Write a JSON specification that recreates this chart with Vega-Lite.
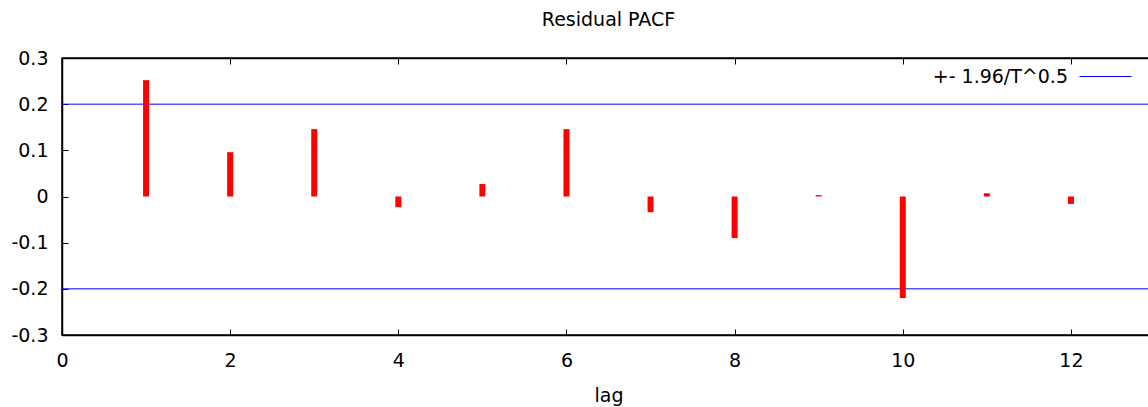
{
  "$schema": "https://vega.github.io/schema/vega-lite/v6.json",
  "autosize": "none",
  "width": 1093,
  "height": 277,
  "padding": {"left": 62, "top": 58, "right": 0, "bottom": 72},
  "title": {"text": "Residual PACF", "font": "DejaVu Sans", "fontSize": 19, "fontWeight": "normal", "color": "#000000", "offset": 19, "anchor": "middle"},
  "config": {
    "view": {"stroke": "#000000", "strokeWidth": 1.5},
    "axis": {"grid": false, "domainColor": "#000000", "tickColor": "#000000", "labelColor": "#000000", "titleColor": "#000000", "labelFont": "DejaVu Sans", "titleFont": "DejaVu Sans", "labelFontSize": 19, "titleFontSize": 19, "titleFontWeight": "normal", "tickSize": -6, "tickWidth": 1, "domainWidth": 1.5},
    "legend": {"labelFont": "DejaVu Sans", "labelFontSize": 19, "labelColor": "#000000"}
  },
  "datasets": {
    "pacf": [
      {"lag": 1, "pacf": 0.252},
      {"lag": 2, "pacf": 0.096},
      {"lag": 3, "pacf": 0.146},
      {"lag": 4, "pacf": -0.023},
      {"lag": 5, "pacf": 0.027},
      {"lag": 6, "pacf": 0.146},
      {"lag": 7, "pacf": -0.034},
      {"lag": 8, "pacf": -0.09},
      {"lag": 9, "pacf": 0.003},
      {"lag": 10, "pacf": -0.22},
      {"lag": 11, "pacf": 0.007},
      {"lag": 12, "pacf": -0.016}
    ],
    "bands": [
      {"band": 0.2, "series": "+- 1.96/T^0.5"},
      {"band": -0.2, "series": "+- 1.96/T^0.5"}
    ]
  },
  "layer": [
    {
      "data": {"name": "bands"},
      "mark": {"type": "rule", "strokeWidth": 1},
      "encoding": {
        "y": {"field": "band", "type": "quantitative", "scale": {"domain": [-0.3, 0.3]}, "axis": null},
        "color": {"field": "series", "type": "nominal", "scale": {"range": ["#0000ff"]},
          "legend": {"title": null, "orient": "none", "legendX": 1017, "legendY": -8, "symbolType": "stroke", "symbolSize": 2704, "symbolStrokeWidth": 1, "labelAlign": "right", "labelOffset": -64, "padding": 0}}
      }
    },
    {
      "mark": {"type": "rule", "color": "#333333", "strokeWidth": 1},
      "encoding": {"y": {"datum": 0, "type": "quantitative", "scale": {"domain": [-0.3, 0.3]}, "axis": null}}
    },
    {
      "data": {"name": "pacf"},
      "mark": {"type": "rule", "color": "#ff0000", "strokeWidth": 6, "strokeCap": "butt"},
      "encoding": {
        "x": {"field": "lag", "type": "quantitative", "scale": {"domain": [0, 13], "nice": false}, "axis": {"orient": "bottom", "values": [0, 2, 4, 6, 8, 10, 12], "title": "lag", "labelPadding": 22, "titlePadding": 16, "labelFlush": false, "domain": true}},
        "y": {"field": "pacf", "type": "quantitative", "scale": {"domain": [-0.3, 0.3]}, "axis": {"orient": "left", "values": [-0.3, -0.2, -0.1, 0, 0.1, 0.2, 0.3], "title": null, "labelPadding": 20, "labelExpr": "'' + datum.value"}},
        "y2": {"datum": 0}
      }
    },
    {
      "data": {"name": "pacf"},
      "mark": {"type": "point", "opacity": 0},
      "encoding": {
        "x": {"field": "lag", "type": "quantitative", "scale": {"domain": [0, 13], "nice": false}, "axis": {"orient": "top", "values": [0, 2, 4, 6, 8, 10, 12], "labels": false, "title": null}},
        "y": {"field": "pacf", "type": "quantitative", "scale": {"domain": [-0.3, 0.3]}, "axis": {"orient": "right", "values": [-0.3, -0.2, -0.1, 0, 0.1, 0.2, 0.3], "labels": false, "title": null}}
      }
    }
  ],
  "resolve": {"axis": {"x": "independent", "y": "independent"}}
}
